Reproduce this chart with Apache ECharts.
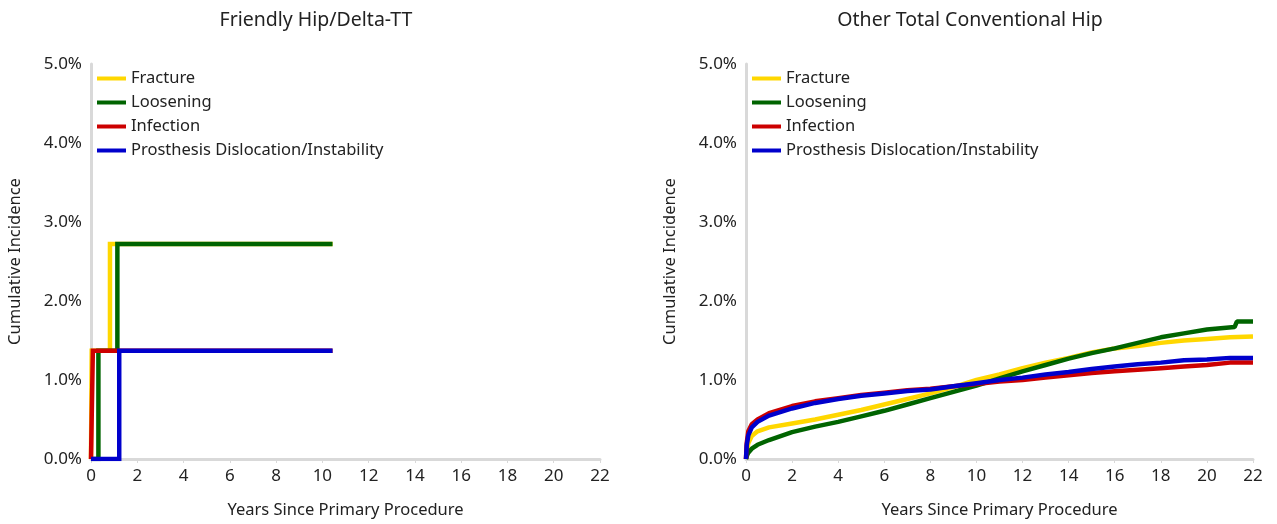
<!DOCTYPE html>
<html><head><meta charset="utf-8">
<script src="https://cdn.jsdelivr.net/npm/echarts@6/dist/echarts.min.js"></script>
<style>html,body{margin:0;padding:0;background:#fff}#c{width:1277px;height:524px}</style>
</head><body><div id="c"></div>
<script>
const seriesNames = ['Fracture', 'Loosening', 'Infection', 'Prosthesis Dislocation/Instability'];
const colors = ['#FFD700', '#006400', '#CC0000', '#0000CC'];
const xTicks = [0, 2, 4, 6, 8, 10, 12, 14, 16, 18, 20, 22];
const yTicks = [0, 1, 2, 3, 4, 5];

// Left panel: Friendly Hip/Delta-TT (step functions; [years, cumulative %])
const leftFracture = [[0, 0], [0.03, 1.37], [0.82, 2.72], [10.44, 2.72]];
const leftLoosening = [[0, 0], [0.32, 1.37], [1.14, 2.72], [10.44, 2.72]];
const leftInfection = [[0, 0], [0.08, 1.37], [10.44, 1.37]];
const leftDislocation = [[0, 0], [1.22, 1.37], [10.44, 1.37]];

// Right panel: Other Total Conventional Hip
const rightFracture = [[0, 0], [0.05, 0.12], [0.1, 0.2], [0.25, 0.29], [0.5, 0.35], [1, 0.4], [2, 0.45], [3, 0.5], [4, 0.56], [5, 0.62], [6, 0.69], [7, 0.76], [8, 0.83], [9, 0.91], [10, 1.0], [11, 1.07], [12, 1.15], [13, 1.22], [14, 1.28], [15, 1.35], [16, 1.4], [17, 1.43], [18, 1.47], [19, 1.5], [20, 1.52], [21, 1.54], [22, 1.55]];
const rightLoosening = [[0, 0], [0.05, 0.05], [0.1, 0.08], [0.25, 0.13], [0.5, 0.18], [1, 0.24], [2, 0.34], [3, 0.41], [4, 0.47], [5, 0.54], [6, 0.61], [7, 0.69], [8, 0.77], [9, 0.85], [10, 0.93], [11, 1.02], [12, 1.11], [13, 1.19], [14, 1.27], [15, 1.34], [16, 1.4], [17, 1.47], [18, 1.54], [19, 1.59], [20, 1.64], [21.2, 1.67], [21.3, 1.74], [22, 1.74]];
const rightInfection = [[0, 0], [0.03, 0.2], [0.1, 0.35], [0.25, 0.44], [0.5, 0.5], [1, 0.58], [2, 0.67], [3, 0.73], [4, 0.77], [5, 0.81], [6, 0.84], [7, 0.87], [8, 0.89], [9, 0.92], [10, 0.95], [11, 0.98], [12, 1.0], [13, 1.03], [14, 1.06], [15, 1.09], [16, 1.11], [17, 1.13], [18, 1.15], [19, 1.17], [20, 1.19], [21, 1.22], [22, 1.22]];
const rightDislocation = [[0, 0], [0.03, 0.17], [0.1, 0.3], [0.25, 0.4], [0.5, 0.47], [1, 0.55], [2, 0.64], [3, 0.71], [4, 0.76], [5, 0.8], [6, 0.83], [7, 0.86], [8, 0.88], [9, 0.92], [10, 0.96], [11, 1.0], [12, 1.03], [13, 1.07], [14, 1.1], [15, 1.14], [16, 1.17], [17, 1.2], [18, 1.22], [19, 1.25], [20, 1.26], [21, 1.28], [22, 1.28]];

const leftData = [leftFracture, leftLoosening, leftInfection, leftDislocation];
const rightData = [rightFracture, rightLoosening, rightInfection, rightDislocation];

const FONT = '"Noto Sans", "Open Sans", sans-serif';
const chart = echarts.init(document.getElementById('c'), null, {renderer: 'canvas'});

function xAxis(gi) {
  return {
    type: 'value', gridIndex: gi, min: xTicks[0], max: xTicks[xTicks.length - 1], interval: 2,
    name: 'Years Since Primary Procedure', nameLocation: 'middle', nameGap: 43,
    nameTextStyle: {fontFamily: FONT, fontSize: 16.5, color: '#222'},
    axisLine: {show: true, lineStyle: {color: '#d9d9d9', width: 3}},
    axisTick: {show: true, length: 4, lineStyle: {color: '#d9d9d9', width: 1}},
    axisLabel: {fontFamily: FONT, fontSize: 17, color: '#222', margin: 9},
    splitLine: {show: false}
  };
}
function yAxis(gi) {
  return {
    type: 'value', gridIndex: gi, min: yTicks[0], max: yTicks[yTicks.length - 1], interval: 1,
    name: 'Cumulative Incidence', nameLocation: 'middle', nameGap: 67, nameRotate: 90,
    nameTextStyle: {fontFamily: FONT, fontSize: 16.5, color: '#222'},
    axisLine: {show: true, onZero: false, lineStyle: {color: '#d9d9d9', width: 3}},
    axisTick: {show: false},
    axisLabel: {fontFamily: FONT, fontSize: 17, color: '#222', margin: 9, formatter: v => v.toFixed(1) + '%'},
    splitLine: {show: false}
  };
}
const series = [];
seriesNames.forEach((n, i) => {
  series.push({name: n, type: 'line', xAxisIndex: 0, yAxisIndex: 0, step: 'end', data: leftData[i],
    showSymbol: false, symbol: 'none', lineStyle: {color: colors[i], width: 4.5, join: 'miter', cap: 'butt'}, itemStyle: {color: colors[i]}, animation: false});
});
seriesNames.forEach((n, i) => {
  series.push({name: n, type: 'line', xAxisIndex: 1, yAxisIndex: 1, data: rightData[i], smooth: false,
    showSymbol: false, symbol: 'none', lineStyle: {color: colors[i], width: 4.5}, itemStyle: {color: colors[i]}, animation: false});
});
const legendCommon = {
  orient: 'vertical', itemWidth: 29, itemHeight: 4, itemGap: 7, icon: 'rect',
  textStyle: {fontFamily: FONT, fontSize: 16.5, color: '#222', padding: [0, 0, 0, 0]}, data: seriesNames, selectedMode: false
};
chart.setOption({
  backgroundColor: '#fff',
  animation: false,
  title: [
    {text: 'Friendly Hip/Delta-TT', left: 311, top: 5, textAlign: 'center', textStyle: {fontFamily: FONT, fontSize: 19.5, fontWeight: 'normal', color: '#222'}},
    {text: 'Other Total Conventional Hip', left: 965, top: 5, textAlign: 'center', textStyle: {fontFamily: FONT, fontSize: 19.5, fontWeight: 'normal', color: '#222'}}
  ],
  legend: [
    Object.assign({left: 92, top: 65}, legendCommon),
    Object.assign({left: 747, top: 65}, legendCommon)
  ],
  grid: [
    {left: 91, right: 677, top: 64, bottom: 63},
    {left: 746, right: 24, top: 64, bottom: 63}
  ],
  xAxis: [xAxis(0), xAxis(1)],
  yAxis: [yAxis(0), yAxis(1)],
  series: series
});
</script></body></html>
